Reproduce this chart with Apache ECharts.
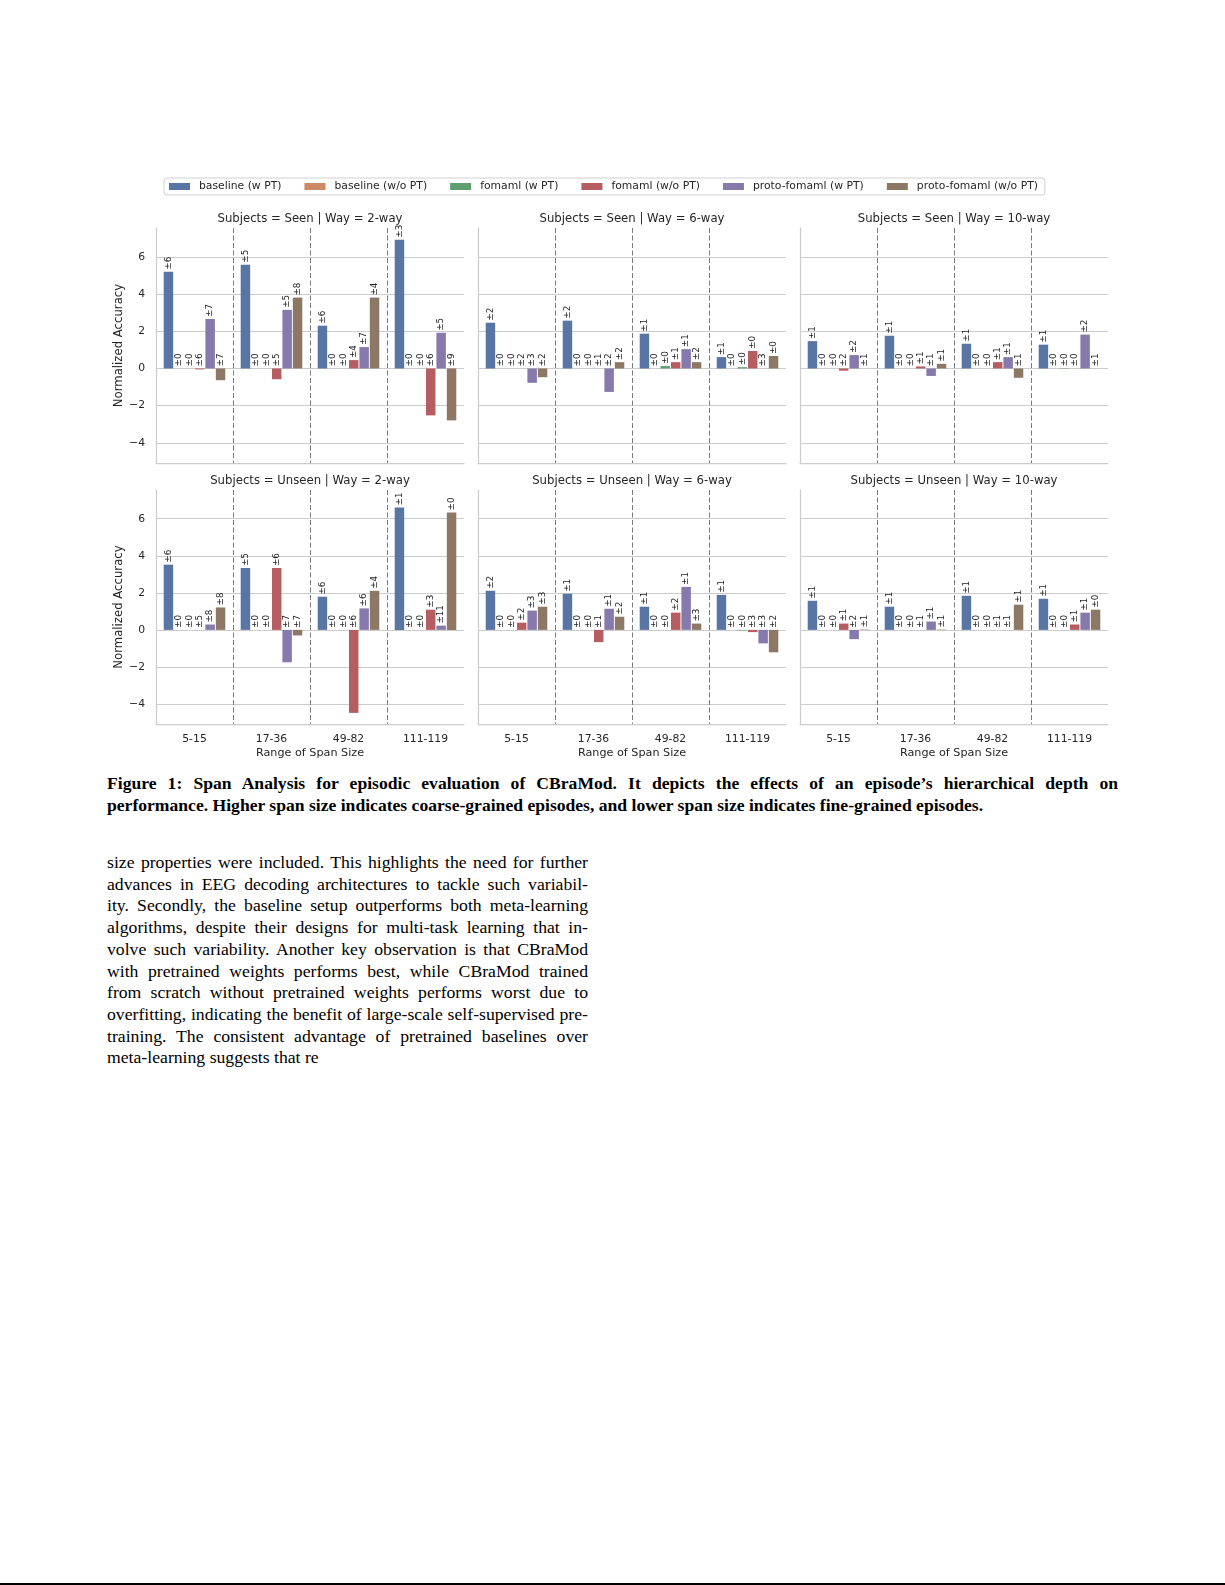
<!DOCTYPE html>
<html>

<head>
    <meta http-equiv="Content-Type" content="text/html; charset=utf-8" />
    <title>span analysis</title>
    <style type="text/css">
    body,
    html {
        width: 1225px;
        height: 1585px;
        margin: 0;
        overflow: hidden;
        background-color: #fff;
    }

    #chart {
        position: absolute;
        left: 0;
        top: 0;
        width: 1225px;
        height: 770px;
    }

    .caption {
        position: absolute;
        left: 107px;
        top: 772px;
        width: 1011px;
        font-family: "Liberation Serif", serif;
        font-weight: bold;
        font-size: 17.6px;
        line-height: 22.3px;
        color: #000;
    }

    .para {
        position: absolute;
        left: 107px;
        top: 852px;
        width: 481px;
        font-family: "Liberation Serif", serif;
        font-size: 17.7px;
        line-height: 21.7px;
        color: #000;
    }

    .j {
        white-space: nowrap;
        text-align: justify;
        text-align-last: justify;
    }

    .l {
        white-space: nowrap;
    }

    #rule {
        position: absolute;
        left: 0;
        top: 1583px;
        width: 1225px;
        height: 2px;
        background: #000;
    }
    </style>
</head>

<body>
    <div id="chart"></div>
    <div class="caption">
        <div class="j">Figure 1: Span Analysis for episodic evaluation of CBraMod. It depicts the effects of an episode’s hierarchical depth on</div>
        <div class="l">performance. Higher span size indicates coarse-grained episodes, and lower span size indicates fine-grained episodes.</div>
    </div>
    <div class="para">
        <div class="j">size properties were included. This highlights the need for further</div>
        <div class="j">advances in EEG decoding architectures to tackle such variabil-</div>
        <div class="j">ity. Secondly, the baseline setup outperforms both meta-learning</div>
        <div class="j">algorithms, despite their designs for multi-task learning that in-</div>
        <div class="j">volve such variability. Another key observation is that CBraMod</div>
        <div class="j">with pretrained weights performs best, while CBraMod trained</div>
        <div class="j">from scratch without pretrained weights performs worst due to</div>
        <div class="j">overfitting, indicating the benefit of large-scale self-supervised pre-</div>
        <div class="j">training. The consistent advantage of pretrained baselines over</div>
        <div class="l">meta-learning suggests that re</div>
    </div>
    <div id="rule"></div>
</body>
<script src="https://cdn.jsdelivr.net/npm/echarts@6.0.0/dist/echarts.min.js"></script>
<script>
// panels: Seen 2-way, Seen 6-way, Seen 10-way, Unseen 2-way, Unseen 6-way, Unseen 10-way
var categories = ['5-15', '17-36', '49-82', '111-119'];
var panelTitles = [
    'Subjects = Seen | Way = 2-way',
    'Subjects = Seen | Way = 6-way',
    'Subjects = Seen | Way = 10-way',
    'Subjects = Unseen | Way = 2-way',
    'Subjects = Unseen | Way = 6-way',
    'Subjects = Unseen | Way = 10-way'
];
var seriesNames = ['baseline (w PT)', 'baseline (w/o PT)', 'fomaml (w PT)', 'fomaml (w/o PT)', 'proto-fomaml (w PT)', 'proto-fomaml (w/o PT)'];
var colors = ['#5975a4', '#cc8963', '#5f9e6e', '#b55d60', '#857aab', '#8d7866'];

// mean normalized accuracy, one row of 4 spans per panel
var baselineW = [
    [5.20, 5.58, 2.30, 6.92],
    [2.46, 2.57, 1.87, 0.61],
    [1.47, 1.76, 1.33, 1.28],
    [3.52, 3.34, 1.79, 6.61],
    [2.11, 1.95, 1.25, 1.89],
    [1.57, 1.25, 1.84, 1.68]
];
var baselineWo = [
    [0, 0, 0, 0],
    [0, 0, 0, 0],
    [0, 0, 0, 0],
    [0, 0, 0, 0],
    [0, 0, 0, 0],
    [0, 0, 0, 0]
];
var fomamlW = [
    [0, 0, 0, 0],
    [0, 0, 0.13, 0.07],
    [0, 0, 0, -0.02],
    [0, 0, 0, 0],
    [0, 0, 0, -0.03],
    [0, 0, 0, 0]
];
var fomamlWo = [
    [-0.05, -0.58, 0.45, -2.52],
    [0, 0, 0.34, 0.94],
    [-0.12, 0.11, 0.34, 0],
    [0, 3.34, -4.48, 1.09],
    [0.39, -0.66, 0.93, -0.12],
    [0.34, 0, 0, 0.29]
];
var protoW = [
    [2.66, 3.15, 1.15, 1.92],
    [-0.77, -1.26, 1.04, 0],
    [0.72, -0.40, 0.61, 1.82],
    [0.29, -1.75, 1.16, 0.23],
    [1.04, 1.14, 2.32, -0.73],
    [-0.50, 0.45, 0, 0.93]
];
var protoWo = [
    [-0.63, 3.81, 3.81, -2.79],
    [-0.47, 0.34, 0.34, 0.67],
    [0, 0.25, -0.50, 0],
    [1.21, -0.30, 2.11, 6.34],
    [1.25, 0.71, 0.34, -1.21],
    [0.02, 0.02, 1.36, 1.09]
];

// the ± numbers printed above the bars
var baselineWStd = [[6, 5, 6, 3], [2, 2, 1, 1], [1, 1, 1, 1], [6, 5, 6, 1], [2, 1, 1, 1], [1, 1, 1, 1]];
var baselineWoStd = [[0, 0, 0, 0], [0, 0, 0, 0], [0, 0, 0, 0], [0, 0, 0, 0], [0, 0, 0, 0], [0, 0, 0, 0]];
var fomamlWStd = [[0, 0, 0, 0], [0, 0, 0, 0], [0, 0, 0, 0], [0, 0, 0, 0], [0, 0, 0, 0], [0, 0, 0, 0]];
var fomamlWoStd = [[6, 5, 4, 6], [2, 1, 1, 0], [2, 1, 1, 0], [5, 6, 6, 3], [2, 1, 2, 3], [1, 1, 1, 1]];
var protoWStd = [[7, 5, 7, 5], [3, 2, 1, 3], [2, 1, 1, 2], [8, 7, 6, 11], [3, 1, 1, 3], [2, 1, 1, 1]];
var protoWoStd = [[7, 8, 4, 9], [2, 2, 2, 0], [1, 1, 1, 1], [8, 7, 4, 0], [3, 2, 3, 2], [1, 1, 1, 0]];

var values = [baselineW, baselineWo, fomamlW, fomamlWo, protoW, protoWo];
var stds = [baselineWStd, baselineWoStd, fomamlWStd, fomamlWoStd, protoWStd, protoWoStd];

var FONT = 'DejaVu Sans';
var TXT = '#262626';
var gridLeft = [156, 478, 800];
var gridTop = [228, 490];
var gridW = 308;
var gridH = [235, 234];

var grids = [], xAxes = [], yAxes = [], titles = [], series = [];

function stdLabel(sd) {
    return function(p) {
        return '\u00b1' + sd[p.dataIndex];
    };
}

for (var p = 0; p < 6; p++) {
    var row = Math.floor(p / 3), col = p % 3;
    grids.push({ left: gridLeft[col], top: gridTop[row], width: gridW, height: gridH[row] });
    titles.push({
        text: panelTitles[p],
        left: gridLeft[col] + gridW / 2,
        top: row === 0 ? 219 : 481,
        textAlign: 'center',
        textVerticalAlign: 'middle',
        padding: 0,
        textStyle: { fontSize: 11.7, fontWeight: 'normal', color: TXT, fontFamily: FONT }
    });
    xAxes.push({
        type: 'category',
        gridIndex: p,
        data: categories,
        axisLine: { onZero: false, lineStyle: { color: '#cccccc', width: 1.25 } },
        axisTick: { show: false },
        axisLabel: { show: row === 1, interval: 0, margin: 9.5, fontSize: 10.8, color: TXT, fontFamily: FONT },
        splitLine: { show: true, interval: 0, showMinLine: false, showMaxLine: false, lineStyle: { color: '#7a7a7a', width: 1, type: [5, 2.5] } },
        name: row === 1 ? 'Range of Span Size' : '',
        nameLocation: 'middle',
        nameGap: 24,
        nameTextStyle: { fontSize: 11.2, color: TXT, fontFamily: FONT }
    });
    yAxes.push({
        type: 'value',
        gridIndex: p,
        min: -5.08,
        max: 7.55,
        splitNumber: 6,
        axisLine: { show: true, lineStyle: { color: '#cccccc', width: 1.25 } },
        axisTick: { show: false },
        axisLabel: {
            show: col === 0,
            showMinLabel: false,
            showMaxLabel: false,
            margin: 11,
            fontSize: 10.8,
            color: TXT,
            fontFamily: FONT,
            formatter: function(v) { return v < 0 ? '\u2212' + (-v) : String(v); }
        },
        splitLine: { show: true, showMinLine: false, showMaxLine: false, lineStyle: { color: '#cccccc', width: 1 } },
        name: col === 0 ? 'Normalized Accuracy' : '',
        nameLocation: 'middle',
        nameGap: 29,
        nameTextStyle: { fontSize: 11.7, color: TXT, fontFamily: FONT }
    });
    for (var h = 0; h < 6; h++) {
        series.push({
            type: 'bar',
            name: seriesNames[h],
            xAxisIndex: p,
            yAxisIndex: p,
            data: values[h][p],
            barGap: '10%',
            barCategoryGap: '20%',
            itemStyle: { color: colors[h] },
            label: {
                show: true,
                position: 'top',
                distance: 2,
                rotate: 90,
                align: 'left',
                verticalAlign: 'middle',
                fontSize: 8.8,
                color: TXT,
                fontFamily: FONT,
                formatter: stdLabel(stds[h][p])
            }
        });
    }
}

var myChart = echarts.init(document.getElementById('chart'));
var option = {
    animation: false,
    backgroundColor: '#fff',
    title: titles,
    legend: {
        data: seriesNames,
        left: 164,
        top: 178,
        icon: 'rect',
        itemWidth: 21,
        itemHeight: 7,
        itemGap: 23,
        padding: [3, 7, 3, 5],
        borderColor: '#d0d0d0',
        borderWidth: 1,
        borderRadius: 3,
        textStyle: { fontSize: 10.8, color: TXT, fontFamily: FONT, padding: [0, 0, 0, 4] }
    },
    grid: grids,
    xAxis: xAxes,
    yAxis: yAxes,
    series: series
};
option && myChart.setOption(option);
</script>

</html>
